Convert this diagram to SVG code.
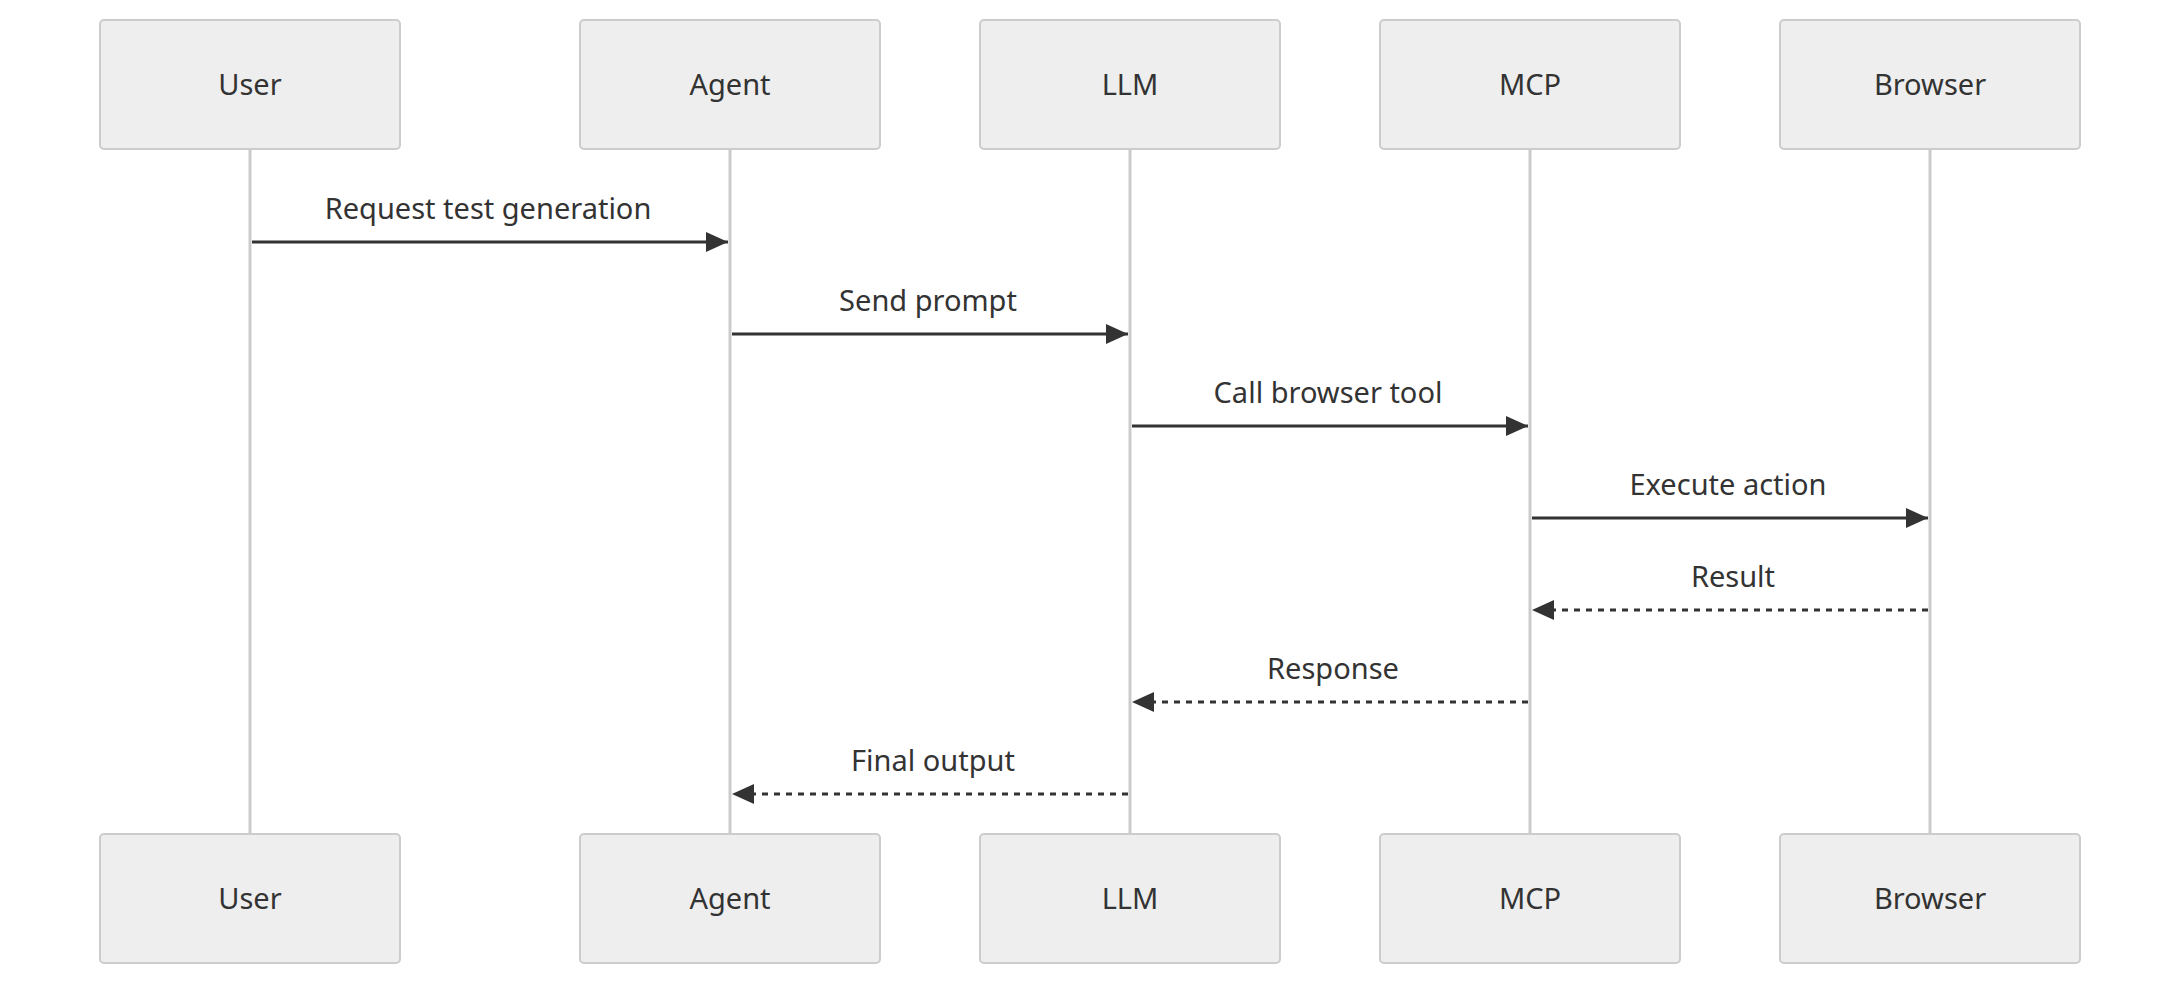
<svg xmlns="http://www.w3.org/2000/svg" width="2180" height="986" viewBox="0 0 2180 986">
<style>
.box{fill:#eeeeee;stroke:#cccccc;stroke-width:2}
.life{stroke:#cccccc;stroke-width:3}
.msg{stroke:#333333;stroke-width:3;fill:none}
.dash{stroke-dasharray:6,6}
text{font-family:"Noto Sans","DejaVu Sans",sans-serif;font-size:29px;fill:#333333;text-anchor:middle}
</style>
<defs>
<marker id="ah" markerUnits="userSpaceOnUse" markerWidth="24" markerHeight="20" refX="22" refY="10" orient="auto">
<path d="M0,0 L22,10 L0,20 z" fill="#333333"/>
</marker>
</defs>
<g id="lifelines">
<line class="life" x1="250" y1="150" x2="250" y2="834"/>
<line class="life" x1="730" y1="150" x2="730" y2="834"/>
<line class="life" x1="1130" y1="150" x2="1130" y2="834"/>
<line class="life" x1="1530" y1="150" x2="1530" y2="834"/>
<line class="life" x1="1930" y1="150" x2="1930" y2="834"/>
</g>
<g id="user-top"><rect class="box" x="100" y="20" width="300" height="129" rx="4"/><text x="250" y="95">User</text></g>
<g id="agent-top"><rect class="box" x="580" y="20" width="300" height="129" rx="4"/><text x="730" y="95">Agent</text></g>
<g id="llm-top"><rect class="box" x="980" y="20" width="300" height="129" rx="4"/><text x="1130" y="95">LLM</text></g>
<g id="mcp-top"><rect class="box" x="1380" y="20" width="300" height="129" rx="4"/><text x="1530" y="95">MCP</text></g>
<g id="browser-top"><rect class="box" x="1780" y="20" width="300" height="129" rx="4"/><text x="1930" y="95">Browser</text></g>
<g id="user-bottom"><rect class="box" x="100" y="834" width="300" height="129" rx="4"/><text x="250" y="909">User</text></g>
<g id="agent-bottom"><rect class="box" x="580" y="834" width="300" height="129" rx="4"/><text x="730" y="909">Agent</text></g>
<g id="llm-bottom"><rect class="box" x="980" y="834" width="300" height="129" rx="4"/><text x="1130" y="909">LLM</text></g>
<g id="mcp-bottom"><rect class="box" x="1380" y="834" width="300" height="129" rx="4"/><text x="1530" y="909">MCP</text></g>
<g id="browser-bottom"><rect class="box" x="1780" y="834" width="300" height="129" rx="4"/><text x="1930" y="909">Browser</text></g>
<g id="connectors">
<line class="msg" x1="252" y1="242" x2="728" y2="242" marker-end="url(#ah)"/>
<text x="488" y="219">Request test generation</text>
<line class="msg" x1="732" y1="334" x2="1128" y2="334" marker-end="url(#ah)"/>
<text x="928" y="311">Send prompt</text>
<line class="msg" x1="1132" y1="426" x2="1528" y2="426" marker-end="url(#ah)"/>
<text x="1328" y="403">Call browser tool</text>
<line class="msg" x1="1532" y1="518" x2="1928" y2="518" marker-end="url(#ah)"/>
<text x="1728" y="495">Execute action</text>
<line class="msg dash" x1="1928" y1="610" x2="1532" y2="610" marker-end="url(#ah)"/>
<text x="1733" y="587">Result</text>
<line class="msg dash" x1="1528" y1="702" x2="1132" y2="702" marker-end="url(#ah)"/>
<text x="1333" y="679">Response</text>
<line class="msg dash" x1="1128" y1="794" x2="732" y2="794" marker-end="url(#ah)"/>
<text x="933" y="771">Final output</text>
</g>
</svg>
